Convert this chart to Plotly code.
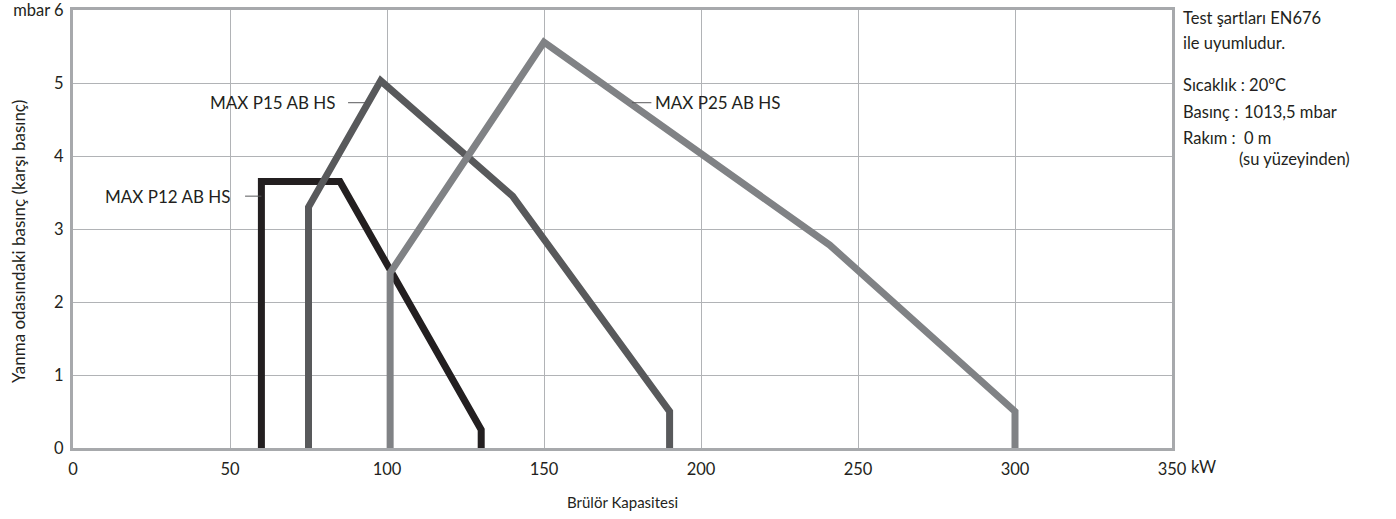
import plotly.graph_objects as go

# ---- data ----
p12_x = [60, 60, 85, 130, 130]
p12_y = [0, 3.65, 3.65, 0.25, 0]
p15_x = [75, 75, 98, 140, 190, 190]
p15_y = [0, 3.3, 5.03, 3.45, 0.5, 0]
p25_x = [101, 101, 150, 241, 300, 300]
p25_y = [0, 2.4, 5.56, 2.78, 0.5, 0]

series_names = ["MAX P12 AB HS", "MAX P15 AB HS", "MAX P25 AB HS"]
x_ticks = [0, 50, 100, 150, 200, 250, 300, 350]
x_ticktext = ["0", "50", "100", "150", "200", "250", "300", "350"]
y_ticks = [0, 1, 2, 3, 4, 5, 6]
y_ticktext = ["0", "1", "2", "3", "4", "5", "mbar 6"]

FONT = "Lato"
FS = 17
TICK_FS = 16.5
TXT = "#231f20"
colors = ["#231f20", "#58595b", "#808285"]

fig = go.Figure()
for xs, ys, name, c in zip([p12_x, p15_x, p25_x], [p12_y, p15_y, p25_y], series_names, colors):
    fig.add_trace(go.Scatter(x=xs, y=ys, mode="lines", name=name,
                             line=dict(color=c, width=7), showlegend=False,
                             hoverinfo="skip"))

# series labels with leader lines
labels = [
    dict(text="MAX P12 AB HS", x=50.5, y=3.45, xanchor="right", lx=[54.8, 60]),
    dict(text="MAX P15 AB HS", x=84.0, y=4.73, xanchor="right", lx=[87.6, 93.7]),
    dict(text="MAX P25 AB HS", x=184.8, y=4.73, xanchor="left", lx=[178, 184.2]),
]
for lb in labels:
    fig.add_annotation(x=lb["x"], y=lb["y"], xref="x", yref="y", text=lb["text"],
                       showarrow=False, xanchor=lb["xanchor"], yanchor="middle",
                       font=dict(family=FONT, size=FS, color=TXT))
    fig.add_shape(type="line", xref="x", yref="y", x0=lb["lx"][0], x1=lb["lx"][1],
                  y0=lb["y"], y1=lb["y"], line=dict(color="#58595b", width=1))

# right-side notes
PW = 1099.0
PH = 438.0
def px(xp):
    return (xp - 73) / PW
def py(yp):
    return (448 - yp) / PH

notes = [
    ("Test şartları EN676", 1181, 18),
    ("ile uyumludur.", 1181, 43),
    ("Sıcaklık : 20°C", 1181, 85),
    ("Basınç :", 1181, 112),
    ("1013,5 mbar", 1242, 112),
    ("Rakım :", 1181, 138),
    ("0 m", 1242, 138),
    ("(su yüzeyinden)", 1237, 159),
]
for t, xp, yp in notes:
    fig.add_annotation(x=px(xp), y=py(yp), xref="paper", yref="paper", text=t,
                       showarrow=False, xanchor="left", yanchor="middle",
                       font=dict(family=FONT, size=16.5, color=TXT))

# kW unit next to 350 tick
fig.add_annotation(x=px(1189), y=py(467), xref="paper", yref="paper", text="kW",
                   showarrow=False, xanchor="left", yanchor="middle",
                   font=dict(family=FONT, size=TICK_FS, color=TXT))

# axis titles
fig.add_annotation(x=px(622), y=py(502), xref="paper", yref="paper", text="Brülör Kapasitesi",
                   showarrow=False, xanchor="center", yanchor="middle",
                   font=dict(family=FONT, size=15, color=TXT))
fig.add_annotation(x=px(18), y=py(242), xref="paper", yref="paper",
                   text="Yanma odasındaki basınç (karşı basınç)", textangle=-90,
                   showarrow=False, xanchor="center", yanchor="middle",
                   font=dict(family=FONT, size=FS, color=TXT))

axis_common = dict(showgrid=True, gridcolor="#b1b3b6", gridwidth=1,
                   showline=True, linecolor="#a7a9ac", linewidth=3, mirror=True,
                   zeroline=False, ticks="", automargin=False,
                   ticklabeloverflow="allow",
                   tickfont=dict(family=FONT, size=TICK_FS, color=TXT))
fig.update_xaxes(range=[0, 350], tickvals=x_ticks, ticktext=x_ticktext,
                 ticklabelstandoff=4, **axis_common)
fig.update_yaxes(range=[0, 6], tickvals=y_ticks, ticktext=y_ticktext,
                 ticklabelstandoff=3, **axis_common)

fig.update_layout(width=1396, height=519, autosize=False,
                  margin=dict(l=73, r=224, t=10, b=71, autoexpand=False),
                  paper_bgcolor="white", plot_bgcolor="white",
                  font=dict(family=FONT, color=TXT))

fig.write_html("out.html", config={"displayModeBar": False},
               post_script="document.body.style.margin='0';document.body.style.padding='0';")
